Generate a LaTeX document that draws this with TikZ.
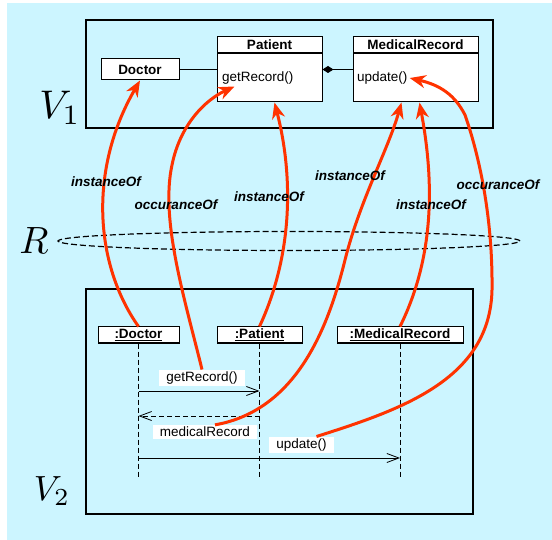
\documentclass[tikz,border=0pt]{standalone}
\usepackage[no-math]{fontspec}
\setmainfont{Liberation Sans}
\usetikzlibrary{arrows.meta,positioning}

\begin{document}
\begin{tikzpicture}[x=1pt, y=-1pt,
  font=\fontsize{13.5}{16}\selectfont,
  classbox/.style={draw, line width=1pt, fill=white, inner sep=0pt},
  objbox/.style={draw, line width=1pt, fill=white, inner sep=0pt, minimum height=16pt,
    font=\fontsize{13.5}{16}\selectfont\bfseries},
  lifeline/.style={line width=0.8pt, dash pattern=on 5pt off 3pt},
  msg/.style={line width=0.8pt, -{Straight Barb[length=12pt,width=9pt]}},
  msglabel/.style={fill=white, inner xsep=7pt, inner ysep=2pt},
  redlink/.style={draw=linkred, line width=3pt, -{Stealth[length=16pt,width=13pt,inset=5pt]}},
  relname/.style={font=\fontsize{13.5}{16}\selectfont\bfseries\itshape},
  viewname/.style={font=\normalsize}]

  % Colours
  \definecolor{bgcyan}{RGB}{204,245,255}
  \definecolor{linkred}{RGB}{255,51,0}

  % Background
  \useasboundingbox (0,0) rectangle (552,540);
  \fill[bgcyan] (7,3) rectangle (552,540);

  % View frames
  \draw[line width=2.5pt] (86,20) rectangle (493,128);
  \draw[line width=2pt] (86,289) rectangle (473,514);
  \node[viewname, scale=4] (vone) at (60,108) {$V_1$};
  \node[viewname, scale=3.5] (vtwo) at (52,491) {$V_2$};

  % Relation R
  \node[viewname, scale=3.8] (rel) at (34,241) {$R$};
  \draw[line width=1.2pt, dash pattern=on 6pt off 3pt] (289,241) ellipse [x radius=231pt, y radius=9.5pt];

  % Class diagram (V1)
  \node[classbox, minimum width=78pt, minimum height=21pt,
    font=\fontsize{13.5}{16}\selectfont\bfseries] (doc) at (140,69.5) {Doctor};
  \node[classbox, minimum width=105pt, minimum height=16pt,
    font=\fontsize{13.5}{16}\selectfont\bfseries] (pathead) at (269.5,45) {Patient};
  \node[classbox, minimum width=105pt, minimum height=48pt, below=0pt of pathead] (patbody) {};
  \node[anchor=west, inner sep=2pt] (getrec) at (220,78) {getRecord()};
  \node[classbox, minimum width=125pt, minimum height=16pt,
    font=\fontsize{13.5}{16}\selectfont\bfseries] (mrhead) at (415.5,45) {MedicalRecord};
  \node[classbox, minimum width=125pt, minimum height=48pt, below=0pt of mrhead] (mrbody) {};
  \node[anchor=west, inner sep=2pt] (upd) at (355,78) {update()};

  \draw[line width=1pt] (doc.east) -- (doc.east -| patbody.west);
  \draw[line width=1pt, -{Diamond[length=11pt,width=7pt]}] (doc.east -| mrbody.west) -- (doc.east -| patbody.east);

  % Sequence diagram (V2)
  \node[objbox, minimum width=81pt] (sdoc) at (138.5,335) {\underline{:Doctor}};
  \node[objbox, minimum width=85pt] (spat) at (259.5,335) {\underline{:Patient}};
  \node[objbox, minimum width=126pt] (smr) at (400,335) {\underline{:MedicalRecord}};

  \foreach \obj in {sdoc,spat,smr}
    \draw[lifeline] (\obj.south) -- ++(0,135);

  \draw[msg] (sdoc.south |- 0,391) -- (spat.south |- 0,391);
  \draw[msg, dash pattern=on 5pt off 3pt] (spat.south |- 0,416) -- (sdoc.south |- 0,416);
  \draw[msg] (sdoc.south |- 0,458) -- (smr.south |- 0,458);

  \node[msglabel] (getlbl) at (202,378) {getRecord()};
  \node[msglabel] (mrlbl) at (205,432) {medicalRecord};
  \node[msglabel] (updlbl) at (301.5,445) {update()};

  % Correspondences
  \draw[redlink] (sdoc.north) .. controls (95,265) and (88,170) .. (doc.south);
  \draw[redlink] (getlbl.north) .. controls (185,300) and (160,220) .. (172,165)
    .. controls (180,125) and (205,100) .. (getrec.200);
  \draw[redlink] (spat.north) .. controls (295,250) and (292,170) .. ([xshift=5pt]patbody.south);
  \draw[redlink] ([xshift=10pt]mrlbl.north) .. controls (300,410) and (330,320) .. (345,260)
    .. controls (360,200) and (388,150) .. ([xshift=-14pt]mrbody.south);
  \draw[redlink] (smr.north) .. controls (438,250) and (432,170) .. ([xshift=4pt]mrbody.south);
  \draw[redlink] ([xshift=15pt]updlbl.north) .. controls (400,410) and (490,380) .. (492,290)
    .. controls (493,200) and (472,135) .. (465,115)
    .. controls (455,95) and (440,85) .. (upd.east);

  \node[relname] (inst1) at (106,182) {instanceOf};
  \node[relname] (occ1) at (176,205) {occuranceOf};
  \node[relname] (inst2) at (269,197) {instanceOf};
  \node[relname] (inst3) at (350,176) {instanceOf};
  \node[relname] (inst4) at (431,205) {instanceOf};
  \node[relname] (occ2) at (498,185) {occuranceOf};

\end{tikzpicture}
\end{document}
